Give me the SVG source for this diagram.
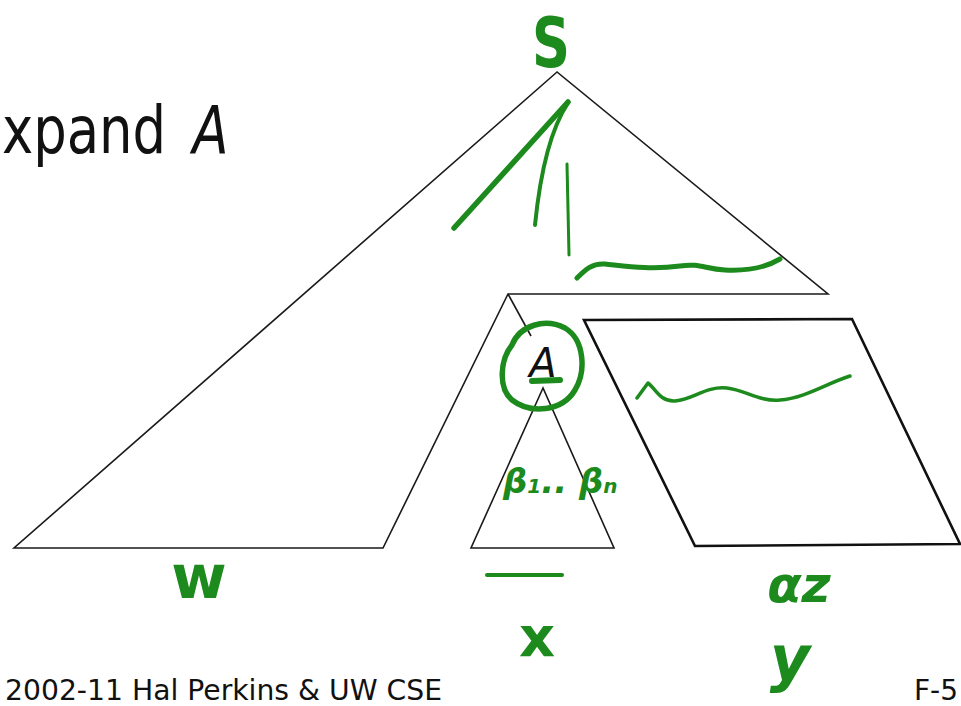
<svg xmlns="http://www.w3.org/2000/svg" width="961" height="706" viewBox="0 0 961 706">
<style>
.ln{fill:none;stroke:#1a1a1a;stroke-width:1.6;stroke-linejoin:miter}
.pl{fill:none;stroke:#111;stroke-width:2.6}
.gr{fill:none;stroke:#1c8a1c;stroke-linecap:round;stroke-linejoin:round}
.hw{fill:#1c8a1c;font-family:"DejaVu Sans",sans-serif;font-weight:bold}
.tx{fill:#111;font-family:"DejaVu Sans",sans-serif}
</style>
<rect width="961" height="706" fill="#fff"/>
<text class="tx" transform="matrix(0.8 0 0 1 2 153)" x="0" y="0" font-size="66" word-spacing="12">xpand <tspan font-style="italic">A</tspan></text>

<g id="connectors">
<polygon id="tree-S" class="ln" points="557,72 14,548 383,548 508,294 828,294"/>
<line class="ln" x1="508" y1="294" x2="531" y2="336"/>
<polygon id="subtree-A" class="ln" points="543,388 471,548 614,548"/>
</g>

<g id="node-y-region">
<polygon class="pl" points="584,320 852,319 960,544 695,546"/>
<path class="gr" stroke-width="3.5" d="M637,398 L648,383 C655,388 660,402 675,401 C695,399 705,386 727,388 C745,390 760,402 780,400 C805,398 825,384 850,376"/>
</g>

<g id="node-S">
<text class="hw" x="551" y="67" font-size="70" text-anchor="middle" textLength="38" lengthAdjust="spacingAndGlyphs">S</text>
<path class="gr" stroke-width="5.5" d="M568,102 L454,228"/>
<path class="gr" stroke-width="4" d="M568,103 C550,130 540,175 535,225"/>
<path class="gr" stroke-width="3" d="M567,164 L569,255"/>
<path class="gr" stroke-width="5" d="M577,278 C585,270 592,263 605,264 C625,266 650,270 680,266 C700,263 705,269 725,270 C745,271 765,268 780,259"/>
</g>

<g id="node-A">
<path class="gr" stroke-width="5.5" d="M512,345 C520,325 545,318 565,328 C585,340 586,372 575,390 C562,412 530,414 512,400 C498,388 500,360 512,345 Z"/>
<text class="tx" x="543" y="377" font-size="40" font-style="italic" text-anchor="middle">A</text>
<path class="gr" stroke-width="6" d="M532,381 L560,380"/>
</g>

<g id="node-betas">
<text class="hw" x="503" y="493" font-size="34" font-style="italic">β<tspan font-size="20">1</tspan>.. β<tspan font-size="20">n</tspan></text>
</g>

<g id="node-w">
<text class="hw" x="199" y="598" font-size="60" text-anchor="middle">w</text>
</g>

<g id="node-x">
<path class="gr" stroke-width="4" d="M487,575 L562,575"/>
<text class="hw" x="537" y="656" font-size="56" text-anchor="middle">x</text>
</g>

<g id="node-y">
<text class="hw" x="799" y="602" font-size="50" text-anchor="middle" font-style="italic">αz</text>
<text class="hw" x="790" y="680" font-size="62" text-anchor="middle" font-style="italic">y</text>
</g>

<text class="tx" x="5" y="700" font-size="28" textLength="437" lengthAdjust="spacingAndGlyphs">2002-11 Hal Perkins &amp; UW CSE</text>
<text class="tx" x="914" y="700" font-size="28">F-5</text>
</svg>
